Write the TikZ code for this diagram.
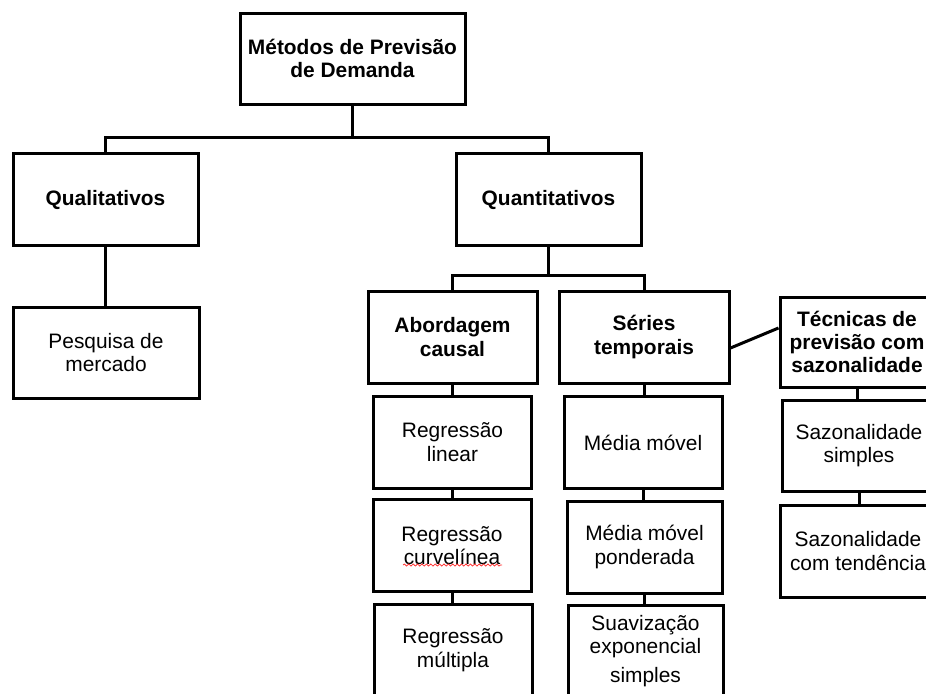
\documentclass[tikz,border=0pt]{standalone}
\usepackage{fontspec}
\setmainfont{Liberation Sans}
\usepackage{tikz}
\usetikzlibrary{decorations.pathmorphing}
\newcommand{\boxfont}{\fontsize{10.45}{11.7}\selectfont}

\begin{document}
\begin{tikzpicture}[
  x=0.5pt, y=-0.5pt,
  font=\boxfont,
  box/.style={draw=black, line width=1.5pt, inner sep=0pt, align=center,
              minimum width=79pt, minimum height=46pt},
  head/.style={box, font=\boxfont\bfseries},
  link/.style={draw=black, line width=1.5pt},
  typo/.style={draw=red!80, line width=0.4pt, decorate,
               decoration={snake, amplitude=0.5pt, segment length=2.2pt}}
]
\useasboundingbox (0,0) rectangle (926,693);
\clip (0,0) rectangle (926,693);

% ===== root and first level =====
\node[head, minimum width=112.5pt, minimum height=45.5pt] (metodos) at (352.5,58.5)
     {Métodos de Previsão\\de Demanda};
\node[head, minimum width=92.5pt] (quali) at (105.5,199.5) {Qualitativos};
\node[head, minimum width=92.5pt] (quanti) at (548.5,199.5) {Quantitativos};
\node[box, minimum width=93pt, minimum height=45.5pt] (pesquisa) at (106,352.5)
     {Pesquisa de\\mercado};

% ===== quantitative branches =====
\node[head, minimum width=84.5pt] (causal) at (452.5,337) {Abordagem\\causal};
\node[head, minimum width=85pt] (series) at (644,337) {Séries\\temporais};
\node[head, minimum width=77pt, minimum height=45pt] (tecnicas) at (857,342)
     {Técnicas de\\previsão com\\sazonalidade};

% ===== causal column =====
\node[box] (linear) at (452.5,442) {Regressão\\linear};
\node[box] (curvel) at (452,545.5) {Regressão\\curvelínea};
\node[box] (multipla) at (453,650) {Regressão\\múltipla};
\draw[typo] (403,565) -- (502,565);

% ===== time series column =====
\node[box] (media) at (643,442.5) {Média móvel};
\node[box, minimum width=77.5pt] (ponderada) at (644.5,547) {Média móvel\\ponderada};
\node[box, minimum width=77.5pt] (suaviz) at (645.5,651)
     {Suavização\\exponencial\\[3pt]simples};

% ===== seasonal column =====
\node[box, minimum width=77pt, minimum height=45.5pt] (sazsimples) at (859,445.5)
     {Sazonalidade\\simples};
\node[box, minimum width=78pt] (saztend) at (858,551) {Sazonalidade\\com tendência};

% ===== connectors =====
\coordinate (topj) at (352.5,137);
\coordinate (quantj) at (548.5,275);
\draw[link] (metodos.south) -- (topj);
\draw[link] (quali.north) |- (topj) -| (quanti.north);
\draw[link] (quanti.south) -- (quantj);
\draw[link] (causal.north) |- (quantj) -| (series.north);
\foreach \a/\b in {quali/pesquisa, causal/linear, linear/curvel, curvel/multipla,
                   series/media, media/ponderada, ponderada/suaviz,
                   tecnicas/sazsimples, sazsimples/saztend}
  \draw[link] (\a.south) -- (\a.south |- \b.north);
\draw[link] ([yshift=-5.5pt]series.east) -- ([yshift=7pt]tecnicas.west);
\end{tikzpicture}
\end{document}
